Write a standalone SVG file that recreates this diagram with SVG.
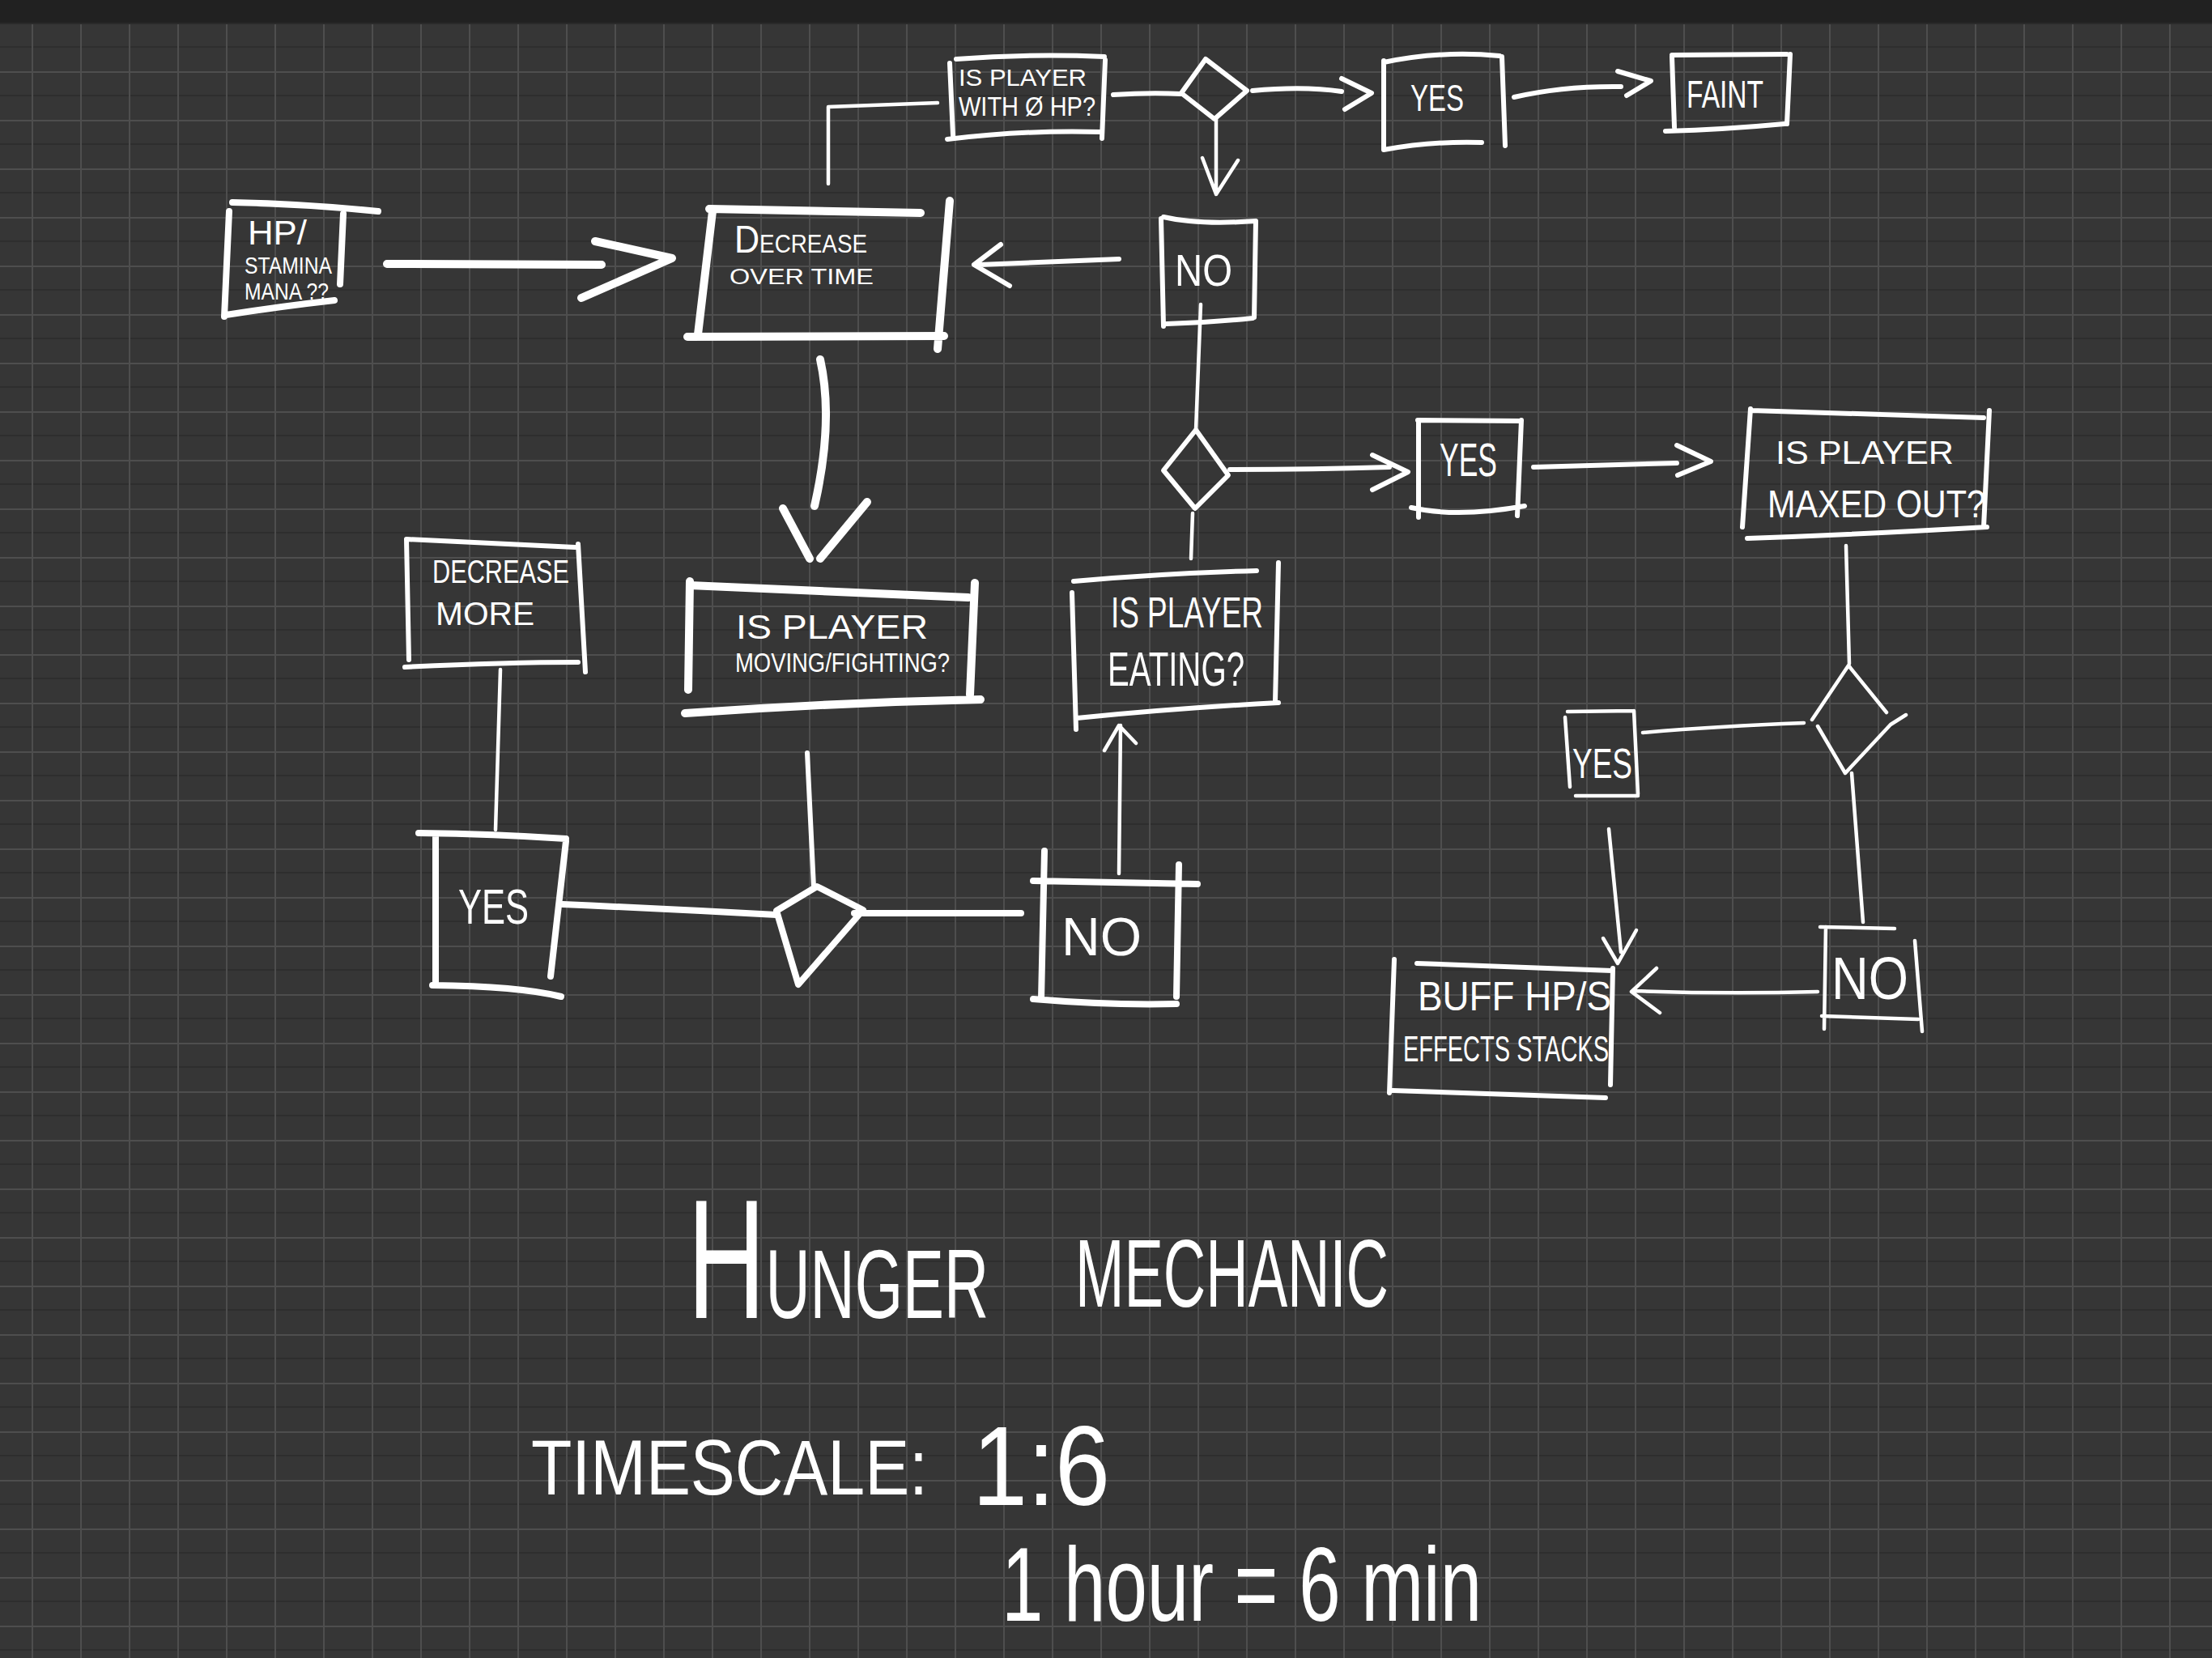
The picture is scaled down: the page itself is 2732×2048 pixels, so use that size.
<svg xmlns="http://www.w3.org/2000/svg" width="2732" height="2048" viewBox="0 0 2732 2048">
<defs>
<pattern id="grid" patternUnits="userSpaceOnUse" x="39" y="28" width="60" height="60">
<rect x="0" y="0" width="60" height="60" fill="#363636"/>
<rect x="0" y="29" width="60" height="2" fill="#2e2e2e"/>
<rect x="0" y="0" width="60" height="2" fill="#4e4e4e"/>
<rect x="0" y="0" width="2" height="60" fill="#4e4e4e"/>
</pattern>
<style>
.b{fill:none;stroke:#fff;stroke-width:8;stroke-linecap:round;stroke-linejoin:round}
.bb{fill:none;stroke:#fff;stroke-width:10;stroke-linecap:round;stroke-linejoin:round}
.m{fill:none;stroke:#fff;stroke-width:6;stroke-linecap:round;stroke-linejoin:round}
.t{fill:none;stroke:#fff;stroke-width:4.5;stroke-linecap:round;stroke-linejoin:round}
text{fill:#fff;font-family:"Liberation Sans","DejaVu Sans",sans-serif;}
</style>
</defs>
<rect x="0" y="0" width="2732" height="2048" fill="#363636"/>
<rect x="0" y="29" width="2732" height="2019" fill="url(#grid)"/>
<rect x="0" y="0" width="2732" height="28" fill="#212121"/>
<rect x="0" y="28" width="2732" height="2" fill="#2a2a2a"/>

<g id="connectors">
<path class="bb" d="M478,326 L743,327 M735,298 L830,319 L718,368"/>
<path class="t" d="M1023,227 L1023,132 L1158,127"/>
<path class="m" d="M1375,117 Q1420,114 1459,116"/>
<path class="m" d="M1547,112 Q1610,106 1657,113 M1657,97 L1694,115 L1661,135"/>
<path class="m" d="M1870,120 Q1930,106 2002,107 M1998,88 L2039,100 L2009,118"/>
<path class="t" d="M1502,147 L1502,240 M1485,195 L1502,240 L1529,198"/>
<path class="m" d="M1382,320 L1210,327 M1236,302 L1203,327 L1247,353"/>
<path class="t" d="M1483,376 L1477,531"/>
<path class="t" d="M1473,634 L1471,690"/>
<path class="m" d="M1519,580 Q1620,580 1716,577 M1695,562 L1739,583 L1695,605"/>
<path class="m" d="M1894,577 L2071,572 M2071,550 L2113,570 L2072,587"/>
<path class="t" d="M2280,674 L2284,820"/>
<path class="t" d="M2228,893 Q2120,897 2029,905"/>
<path class="t" d="M1987,1024 L2002,1176 M1980,1159 L1998,1190 L2021,1149"/>
<path class="t" d="M2287,955 L2301,1139"/>
<path class="t" d="M2245,1225 Q2130,1228 2020,1224 M2046,1196 L2015,1225 L2050,1251"/>
<path class="bb" d="M1013,444 Q1030,520 1006,625 M967,628 L1000,690 M1071,620 L1013,690"/>
<path class="m" d="M997,930 L1005,1096"/>
<path class="b" d="M959,1130 Q830,1123 695,1117"/>
<path class="b" d="M1055,1128 L1261,1128"/>
<path class="t" d="M618,827 L612,1025"/>
<path class="t" d="M1382,1079 L1384,896 M1364,927 L1382,896 L1403,918"/>
</g>

<g id="n-hp">
<path class="b" d="M287,250 Q380,252 467,261 M424,264 L420,351 M283,261 L277,391 M279,389 Q350,378 413,371"/>
<text x="306" y="302" font-size="42" textLength="73" lengthAdjust="spacingAndGlyphs">HP/</text>
<text x="302" y="338" font-size="29" textLength="108" lengthAdjust="spacingAndGlyphs">STAMINA</text>
<text x="302" y="370" font-size="30" textLength="104" lengthAdjust="spacingAndGlyphs">MANA ??</text>
</g>

<g id="n-decrease">
<path class="bb" d="M876,258 L1137,263 M1173,248 L1158,431 M880,261 L862,413 M849,416 L1166,415"/>
<text x="907" y="312" font-size="31" textLength="164" lengthAdjust="spacingAndGlyphs"><tspan font-size="48">D</tspan>ECREASE</text>
<text x="901" y="351" font-size="27" textLength="178" lengthAdjust="spacingAndGlyphs">OVER TIME</text>
</g>

<g id="n-zerohp">
<path class="m" d="M1173,78 L1177,167 M1181,73 Q1270,66 1364,70 M1365,74 L1361,171 M1170,172 Q1270,160 1361,163"/>
<text x="1184" y="106" font-size="30" textLength="158" lengthAdjust="spacingAndGlyphs">IS PLAYER</text>
<text x="1184" y="143" font-size="33" textLength="169" lengthAdjust="spacingAndGlyphs">WITH Ø HP?</text>
</g>

<g id="d-zerohp">
<path class="m" d="M1489,73 L1540,112 L1500,147 L1459,115 Z"/>
</g>

<g id="n-yes1">
<path class="m" d="M1709,75 L1709,185 M1709,77 Q1780,62 1852,69 M1855,70 L1859,180 M1709,185 Q1770,174 1830,176"/>
<text x="1742" y="137" font-size="46" textLength="66" lengthAdjust="spacingAndGlyphs">YES</text>
</g>

<g id="n-faint">
<path class="m" d="M2065,70 L2068,157 M2065,68 L2207,67 M2211,67 L2207,153 M2057,162 Q2130,160 2204,153"/>
<text x="2083" y="133" font-size="49" textLength="95" lengthAdjust="spacingAndGlyphs">FAINT</text>
</g>

<g id="n-no1">
<path class="m" d="M1434,270 L1437,403 M1437,268 Q1480,278 1551,273 M1551,273 L1549,392 M1441,400 Q1500,398 1547,393"/>
<text x="1451" y="353" font-size="55" textLength="71" lengthAdjust="spacingAndGlyphs">NO</text>
</g>

<g id="d-eating">
<path class="m" d="M1477,531 L1517,587 L1476,628 L1437,581 Z"/>
</g>

<g id="n-yes2">
<path class="m" d="M1752,519 L1752,639 M1751,519 L1879,520 M1879,519 L1874,637 M1743,627 Q1800,640 1883,625"/>
<text x="1778" y="588" font-size="58" textLength="71" lengthAdjust="spacingAndGlyphs">YES</text>
</g>

<g id="n-maxed">
<path class="m" d="M2162,505 L2152,651 M2163,507 L2450,516 M2457,507 L2450,651 M2158,665 Q2300,660 2454,651"/>
<text x="2193" y="573" font-size="40" textLength="220" lengthAdjust="spacingAndGlyphs">IS PLAYER</text>
<text x="2183" y="639" font-size="48" textLength="269" lengthAdjust="spacingAndGlyphs">MAXED OUT?</text>
</g>

<g id="d-maxed">
<path class="t" d="M2283,822 L2238,889 M2245,897 L2279,955 L2335,895 L2354,883 M2283,822 L2330,880"/>
</g>

<g id="n-yes3">
<path class="t" d="M1933,886 L1939,972 M1936,879 L2018,878 M2018,878 L2023,981 M1946,983 L2023,983"/>
<text x="1942" y="961" font-size="52" textLength="74" lengthAdjust="spacingAndGlyphs">YES</text>
</g>

<g id="n-no3">
<path class="t" d="M2255,1145 L2253,1271 M2248,1145 L2340,1147 M2365,1162 L2374,1274 M2250,1255 L2369,1259"/>
<text x="2262" y="1234" font-size="74" textLength="95" lengthAdjust="spacingAndGlyphs">NO</text>
</g>

<g id="n-buff">
<path class="m" d="M1722,1185 L1716,1350 M1750,1190 L1991,1199 M1992,1196 L1989,1340 M1720,1347 L1983,1356"/>
<text x="1751" y="1248" font-size="50" textLength="239" lengthAdjust="spacingAndGlyphs">BUFF HP/S</text>
<text x="1733" y="1311" font-size="44" textLength="254" lengthAdjust="spacingAndGlyphs">EFFECTS STACKS</text>
</g>

<g id="n-moving">
<path class="bb" d="M852,718 L850,852 M852,723 L1196,738 M1204,720 L1198,858 M846,881 Q1030,868 1211,864"/>
<text x="909" y="789" font-size="42" textLength="237" lengthAdjust="spacingAndGlyphs">IS PLAYER</text>
<text x="908" y="830" font-size="34" textLength="265" lengthAdjust="spacingAndGlyphs">MOVING/FIGHTING?</text>
</g>

<g id="d-moving">
<path class="b" d="M1009,1095 L1066,1124 L986,1216 L959,1125 Z"/>
</g>

<g id="n-yes4">
<path class="b" d="M538,1033 L538,1217 M517,1029 Q610,1030 699,1036 M699,1039 L680,1206 M534,1217 Q640,1218 693,1231"/>
<text x="566" y="1141" font-size="62" textLength="87" lengthAdjust="spacingAndGlyphs">YES</text>
</g>

<g id="n-decmore">
<path class="m" d="M502,666 L505,815 M502,666 L710,676 M714,672 L723,830 M500,824 Q620,818 714,818"/>
<text x="534" y="720" font-size="40" textLength="169" lengthAdjust="spacingAndGlyphs">DECREASE</text>
<text x="538" y="772" font-size="40" textLength="122" lengthAdjust="spacingAndGlyphs">MORE</text>
</g>

<g id="n-no4">
<path class="b" d="M1290,1051 L1286,1234 M1276,1088 L1479,1092 M1456,1068 L1453,1231 M1276,1234 Q1370,1242 1453,1240"/>
<text x="1311" y="1180" font-size="66" textLength="99" lengthAdjust="spacingAndGlyphs">NO</text>
</g>

<g id="n-eating">
<path class="m" d="M1324,732 L1329,901 M1326,718 Q1440,708 1552,705 M1579,695 L1575,867 M1330,887 Q1450,875 1579,868"/>
<text x="1372" y="775" font-size="54" textLength="188" lengthAdjust="spacingAndGlyphs">IS PLAYER</text>
<text x="1368" y="847" font-size="60" textLength="169" lengthAdjust="spacingAndGlyphs">EATING?</text>
</g>

<g id="title">
<text transform="translate(849,1628) scale(0.636,1)" font-size="120"><tspan font-size="210">H</tspan>UNGER</text>
<text transform="translate(1328,1614) scale(0.615,1)" font-size="118">MECHANIC</text>
<text x="656" y="1846" font-size="96" textLength="490" lengthAdjust="spacingAndGlyphs">TIMESCALE:</text>
<text x="1201" y="1859" font-size="140" textLength="170" lengthAdjust="spacingAndGlyphs">1:6</text>
<text x="1237" y="2002" font-size="130" textLength="593" lengthAdjust="spacingAndGlyphs">1 hour = 6 min</text>
</g>
</svg>
